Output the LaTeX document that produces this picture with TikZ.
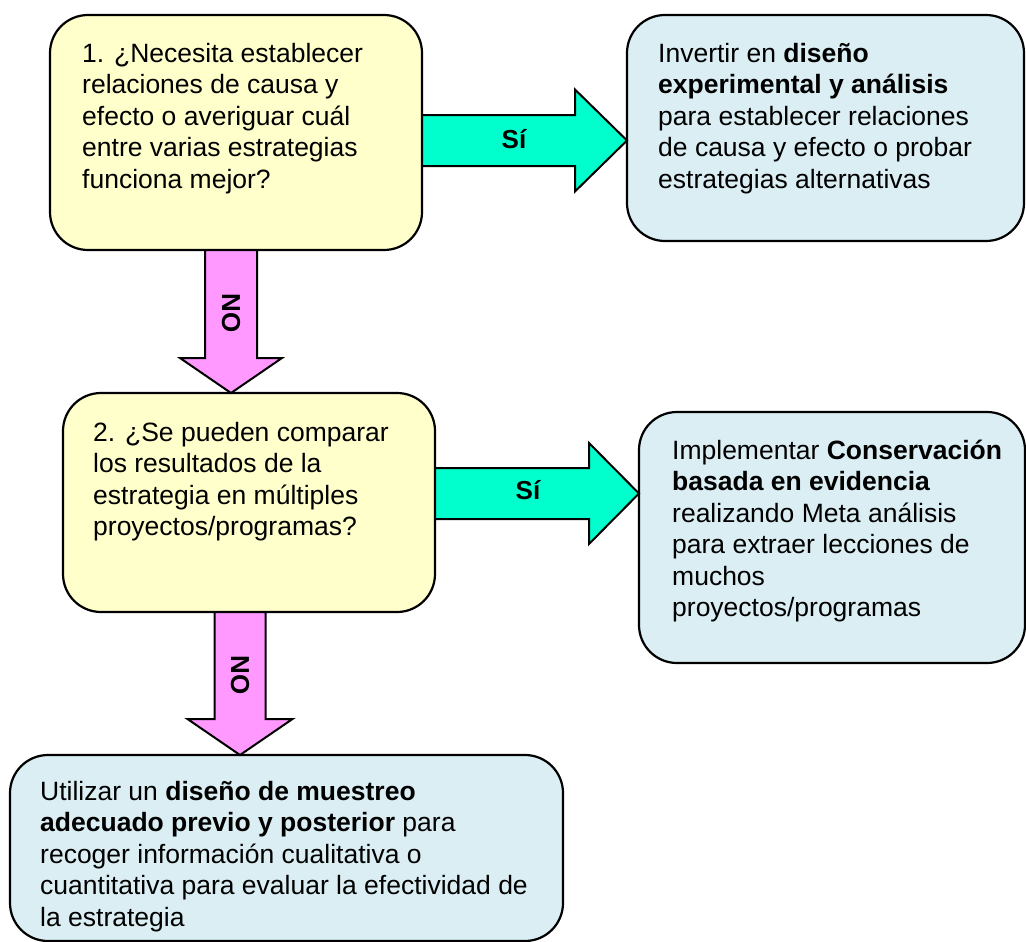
\documentclass[tikz,border=0pt]{standalone}
\usepackage{fontspec}
\setmainfont{Liberation Sans}
\usetikzlibrary{calc}
\definecolor{qyellow}{HTML}{FFFFCC}
\definecolor{ablue}{HTML}{DAEEF3}
\definecolor{sicyan}{HTML}{00FFCC}
\definecolor{nopink}{HTML}{FF99FF}
\newcommand{\firstline}{\rule{0pt}{21pt}}
\begin{document}
\begin{tikzpicture}[x=1pt,y=-1pt,
  boxbase/.style={draw=black, line width=2.2pt, rounded corners=38pt, inner sep=0pt, outer sep=0pt},
  qbox/.style={boxbase, fill=qyellow},
  abox/.style={boxbase, fill=ablue},
  txt/.style={anchor=north west, inner sep=0pt, align=left, font=\fontsize{26.5}{31.5}\selectfont},
  lbl/.style={inner sep=0pt, font=\fontsize{26}{28}\selectfont\bfseries},
  siarrow/.style={draw=black, line width=2pt, fill=sicyan, line join=miter},
  noarrow/.style={draw=black, line width=2pt, fill=nopink, line join=miter}]
\useasboundingbox (0,0) rectangle (1026,942);

% boxes
\node[qbox, minimum width=372pt, minimum height=235pt] (q1) at (236,132.5) {};
\node[abox, minimum width=397pt, minimum height=226pt] (r1) at (825.5,128) {};
\node[qbox, minimum width=372pt, minimum height=219pt] (q2) at (249,502.5) {};
\node[abox, minimum width=386pt, minimum height=251pt] (r2) at (832,537.5) {};
\node[abox, minimum width=553pt, minimum height=186pt] (r3) at (286.5,848) {};

% texts (top of node = first baseline - 21)
\node[txt] (q1t) at (82,41) {\firstline 1. ¿Necesita establecer\\relaciones de causa y\\efecto o averiguar cuál\\entre varias estrategias\\funciona mejor?};
\node[txt] (r1t) at (658,41) {\firstline Invertir en \textbf{diseño}\\\textbf{experimental y análisis}\\para establecer relaciones\\de causa y efecto o probar\\estrategias alternativas};
\node[txt] (q2t) at (93,420) {\firstline 2. ¿Se pueden comparar\\los resultados de la\\estrategia en múltiples\\proyectos/programas?};
\node[txt] (r2t) at (672,438) {\firstline Implementar \textbf{Conservación}\\\textbf{basada en evidencia}\\realizando Meta análisis\\para extraer lecciones de\\muchos\\proyectos/programas};
\node[txt] (r3t) at (40,779) {\firstline Utilizar un \textbf{diseño de muestreo}\\\textbf{adecuado previo y posterior} para\\recoger información cualitativa o\\cuantitativa para evaluar la efectividad de\\la estrategia};

% arrow 1: q1 -> r1 (Sí)
\coordinate (y1) at (0,140.5);
\coordinate (a1s) at (q1.east |- y1);
\coordinate (a1e) at (r1.west |- y1);
\draw[siarrow] ($(a1s)+(0,-25.5)$) -- ($(a1e)+(-52,-25.5)$) -- ($(a1e)+(-52,-51)$) -- (a1e)
  -- ($(a1e)+(-52,51)$) -- ($(a1e)+(-52,25.5)$) -- ($(a1s)+(0,25.5)$) -- cycle;
\node[lbl] (s1) at (514,139) {Sí};

% arrow 2: q2 -> r2 (Sí)
\coordinate (y2) at (0,493.5);
\coordinate (a2s) at (q2.east |- y2);
\coordinate (a2e) at (r2.west |- y2);
\draw[siarrow] ($(a2s)+(0,-25.5)$) -- ($(a2e)+(-50,-25.5)$) -- ($(a2e)+(-50,-50.5)$) -- (a2e)
  -- ($(a2e)+(-50,50.5)$) -- ($(a2e)+(-50,25.5)$) -- ($(a2s)+(0,25.5)$) -- cycle;
\node[lbl] (s2) at (528,490) {Sí};

% arrow 3: q1 -> q2 (NO)
\coordinate (x3) at (231,0);
\coordinate (n1s) at (q1.south -| x3);
\coordinate (n1e) at (q2.north -| x3);
\draw[noarrow] ($(n1s)+(-26,0)$) -- ($(n1e)+(-26,-35)$) -- ($(n1e)+(-51,-35)$) -- (n1e)
  -- ($(n1e)+(51,-35)$) -- ($(n1e)+(26,-35)$) -- ($(n1s)+(26,0)$) -- cycle;
\node[lbl, rotate=-90] (no1) at (231,313) {NO};

% arrow 4: q2 -> r3 (NO)
\coordinate (x4) at (240,0);
\coordinate (n2s) at (q2.south -| x4);
\coordinate (n2e) at (r3.north -| x4);
\draw[noarrow] ($(n2s)+(-25.5,0)$) -- ($(n2e)+(-25.5,-36)$) -- ($(n2e)+(-52.5,-36)$) -- (n2e)
  -- ($(n2e)+(52.5,-36)$) -- ($(n2e)+(25.5,-36)$) -- ($(n2s)+(25.5,0)$) -- cycle;
\node[lbl, rotate=-90] (no2) at (240,675) {NO};
\end{tikzpicture}
\end{document}
